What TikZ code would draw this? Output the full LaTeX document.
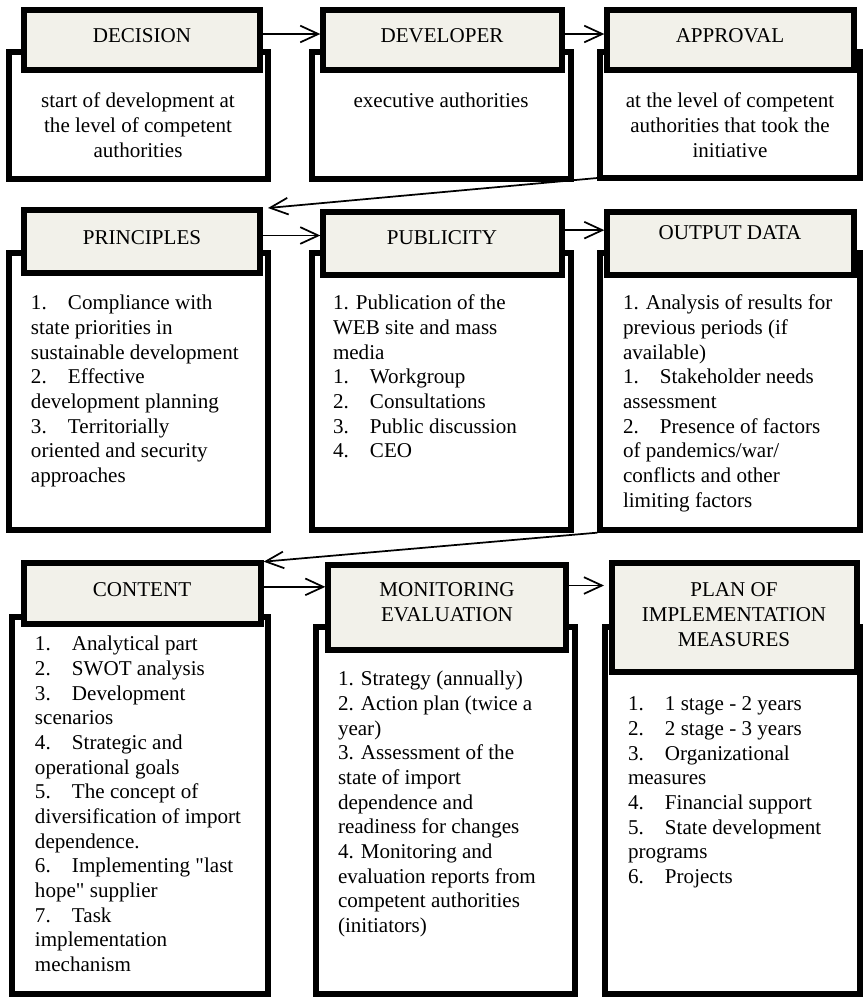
\documentclass[tikz,border=0pt]{standalone}
\usepackage{fontspec}
\setmainfont{Liberation Serif}[Ligatures=TeXOff]
\usetikzlibrary{arrows.meta,fit}
\definecolor{hdrfill}{RGB}{242,241,234}
\newcommand\lnum[1]{\makebox[27.75pt][l]{#1}}
\tikzset{
  bodybox/.style={draw, line width=4pt, fill=white, inner sep=0pt, outer sep=0pt},
  hdrbox/.style={draw, line width=4pt, fill=hdrfill, inner sep=0pt, outer sep=0pt},
  txt/.style={font=\fontsize{15.8pt}{18.5pt}\selectfont, inner sep=0pt, outer sep=0pt},
  lbl/.style={txt, anchor=base},
  lst/.style={txt, anchor=north west, align=left},
  ctr/.style={txt, anchor=north, align=center},
  arr/.style={-{Straight Barb[length=13.5pt,width=12.5pt,line width=1.3pt]}, line width=1.3pt},
}
\begin{document}
\begin{tikzpicture}[x=0.75pt,y=-0.75pt]
\useasboundingbox (0,0) rectangle (863,997);

% ---------- Row 1 ----------
\node[bodybox, fit={(9,52) (268,179)}] (b1) {};
\node[hdrbox, fit={(24,10) (260,70)}] (h1) {};
\node[bodybox, fit={(312,52) (571,179)}] (b2) {};
\node[hdrbox, fit={(323,10) (562,70)}] (h2) {};
\node[bodybox, fit={(600,52) (860,178)}] (b3) {};
\node[hdrbox, fit={(607,10) (854,70)}] (h3) {};

\node[lbl] (t1) at (142,42) {DECISION};
\node[lbl] (t2) at (442,42) {DEVELOPER};
\node[lbl] (t3) at (730,42) {APPROVAL};

\node[ctr] (c1) at (138,90.7) {\strut start of development at\\the level of competent\\authorities};
\node[ctr] (c2) at (441,90.7) {\strut executive authorities};
\node[ctr] (c3) at (730,90.7) {\strut at the level of competent\\authorities that took the\\initiative};

% ---------- Row 2 ----------
\node[bodybox, fit={(9,253) (268,530)}] (b4) {};
\node[hdrbox, fit={(24,210) (260,273)}] (h4) {};
\node[bodybox, fit={(312,253) (571,530)}] (b5) {};
\node[hdrbox, fit={(323,212) (562,275)}] (h5) {};
\node[bodybox, fit={(600,253) (860,530)}] (b6) {};
\node[hdrbox, fit={(607,212) (854,275)}] (h6) {};

\node[lbl] (t4) at (142,244) {PRINCIPLES};
\node[lbl] (t5) at (442,244) {PUBLICITY};
\node[lbl] (t6) at (730,239) {OUTPUT DATA};

\node[lst] (l4) at (31,292.7) {\strut\lnum{1.}Compliance with\\
state priorities in\\
sustainable development\\
\lnum{2.}Effective\\
development planning\\
\lnum{3.}Territorially\\
oriented and security\\
approaches};
\node[lst] (l5) at (333,292.7) {\strut 1. Publication of the\\
WEB site and mass\\
media\\
\lnum{1.}Workgroup\\
\lnum{2.}Consultations\\
\lnum{3.}Public discussion\\
\lnum{4.}CEO};
\node[lst] (l6) at (623,292.7) {\strut 1. Analysis of results for\\
previous periods (if\\
available)\\
\lnum{1.}Stakeholder needs\\
assessment\\
\lnum{2.}Presence of factors\\
of pandemics/war/\\
conflicts and other\\
limiting factors};

% ---------- Row 3 ----------
\node[bodybox, fit={(12,617) (268,994)}] (b7) {};
\node[hdrbox, fit={(24,563) (261,624)}] (h7) {};
\node[bodybox, fit={(316,627) (575,994)}] (b8) {};
\node[hdrbox, fit={(328,565) (566,650)}] (h8) {};
\node[bodybox, fit={(605,627) (860,994)}] (b9) {};
\node[hdrbox, fit={(612,563) (857,672)}] (h9) {};

\node[lbl] (t7) at (142,596) {CONTENT};
\node[ctr] (t8) at (447,579.7) {\strut MONITORING\\EVALUATION};
\node[ctr] (t9) at (734,579.7) {\strut PLAN OF\\IMPLEMENTATION\\MEASURES};

\node[lst] (l7) at (35,633.7) {\strut\lnum{1.}Analytical part\\
\lnum{2.}SWOT analysis\\
\lnum{3.}Development\\
scenarios\\
\lnum{4.}Strategic and\\
operational goals\\
\lnum{5.}The concept of\\
diversification of import\\
dependence.\\
\lnum{6.}Implementing "last\\
hope" supplier\\
\lnum{7.}Task\\
implementation\\
mechanism};
\node[lst] (l8) at (338,668.7) {\strut 1. Strategy (annually)\\
2. Action plan (twice a\\
year)\\
3. Assessment of the\\
state of import\\
dependence and\\
readiness for changes\\
4. Monitoring and\\
evaluation reports from\\
competent authorities\\
(initiators)};
\node[lst] (l9) at (628,693.7) {\strut\lnum{1.}1 stage - 2 years\\
\lnum{2.}2 stage - 3 years\\
\lnum{3.}Organizational\\
measures\\
\lnum{4.}Financial support\\
\lnum{5.}State development\\
programs\\
\lnum{6.}Projects};

% ---------- Connectors ----------
\draw[arr] ([yshift=4.5pt]h1.east) coordinate (s1) -- ([xshift=-2pt]s1 -| h2.west);
\draw[arr] ([yshift=4.5pt]h2.east) coordinate (s2) -- ([xshift=-2pt]s2 -| h3.west);
\draw[arr] ([xshift=-2pt]b3.south west) -- ([xshift=6pt,yshift=1.5pt]h4.north east);
\draw[arr] ([yshift=4.5pt]h4.east) coordinate (s4) -- ([xshift=-2pt]s4 -| h5.west);
\draw[arr] ([yshift=10pt]h5.east) coordinate (s5) -- ([xshift=-2pt]s5 -| h6.west);
\draw[arr] ([xshift=-2pt,yshift=-2pt]b6.south west) -- ([xshift=2pt,yshift=1pt]h7.north east);
\draw[arr] ([yshift=5pt]h7.east) coordinate (s7) -- ([xshift=-2pt]s7 -| h8.west);
\draw[arr] ([yshift=16.5pt]h8.east) coordinate (s8) -- ([xshift=-6pt]s8 -| h9.west);
\end{tikzpicture}
\end{document}
